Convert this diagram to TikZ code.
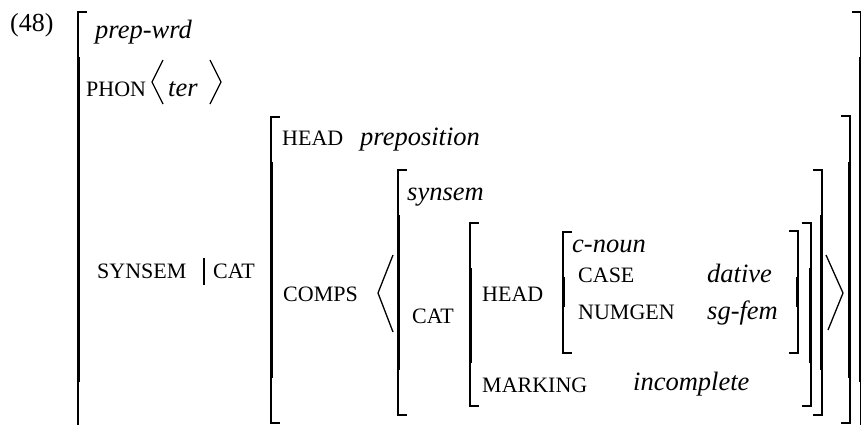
\documentclass[tikz,border=0pt]{standalone}
\usepackage{fontspec}
\setmainfont{Liberation Serif}[ItalicFont={Liberation Serif Italic},BoldFont={Liberation Serif Bold}]
\newfontfamily\valfont{Liberation Serif Italic}
\newcommand\hpsgL[5]{%
  \draw[thinb] (#1+9,#2) -- (#1,#2) -- (#1,#4);
  \draw[thickb] (#1+0.8,#4) -- (#1+0.8,#5);
  \draw[thinb] (#1,#5) -- (#1,#3) -- (#1+9,#3);}
\newcommand\hpsgR[5]{%
  \draw[thinb] (#1-9,#2) -- (#1,#2) -- (#1,#4);
  \draw[thickb] (#1-0.8,#4) -- (#1-0.8,#5);
  \draw[thinb] (#1,#5) -- (#1,#3) -- (#1-9,#3);}
\begin{document}
\begin{tikzpicture}[x=1pt,y=-1pt,
  thinb/.style={line width=1.1pt},
  thickb/.style={line width=2.8pt},
  angleb/.style={line width=1.3pt},
  attr/.style={font=\fontsize{22}{22}\selectfont, anchor=base west, inner sep=0pt},
  val/.style={font=\fontsize{26.5}{26.5}\valfont, anchor=base west, inner sep=0pt},
  lbl/.style={font=\fontsize{26}{26}\selectfont, anchor=base west, inner sep=0pt}]
\useasboundingbox (0,0) rectangle (861,424);
\clip (0,0) rectangle (861,424);
\fill[white] (0,0) rectangle (861,424);
% texts
\node[lbl] (ex) at (10,31) {(48)};
\node[val] (prepwrd) at (95,38) {prep-wrd};
\node[attr] (phon) at (86,96) {PHON};
\node[val] (ter) at (168,96) {ter};
\node[attr] (synsem) at (97,278) {SYNSEM};
\node[attr] (cat1) at (213,278) {CAT};
\node[attr] (head1) at (282,145) {HEAD};
\node[val] (prep) at (360,145) {preposition};
\node[attr] (comps) at (283,301) {COMPS};
\node[val] (synsemt) at (407,200) {synsem};
\node[attr] (cat2) at (412,323) {CAT};
\node[attr] (head2) at (482,301) {HEAD};
\node[val] (cnoun) at (572,252) {c-noun};
\node[attr] (case) at (578,282) {CASE};
\node[val] (dative) at (707,282) {dative};
\node[attr] (numgen) at (578,319) {NUMGEN};
\node[val] (sgfem) at (707,319) {sg-fem};
\node[attr] (marking) at (482,392) {MARKING};
\node[val] (incomplete) at (633,390) {incomplete};
% angle brackets
\draw[angleb] (163,60) -- (152,82) -- (163,104);
\draw[angleb] (210,60) -- (221,82) -- (210,104);
\draw[angleb] (393,255) -- (378,293) -- (393,332);
\draw[angleb] (826,255) -- (843,293) -- (828,330);
% path bar
\draw[thinb] (204,258) -- (204,285);
% square brackets
\hpsgL{78}{12}{440}{57}{382}
\hpsgL{271}{117}{423}{162}{378}
\hpsgL{398}{170}{415}{215}{370}
\hpsgL{470}{223}{406}{268}{363}
\hpsgL{563}{232}{353}{277}{307}
\hpsgR{798}{231}{353}{277}{307}
\hpsgR{811}{223}{406}{268}{363}
\hpsgR{822}{170}{415}{215}{370}
\hpsgR{850}{116}{423}{162}{378}
\hpsgR{861}{12}{440}{57}{382}
\end{tikzpicture}
\end{document}
